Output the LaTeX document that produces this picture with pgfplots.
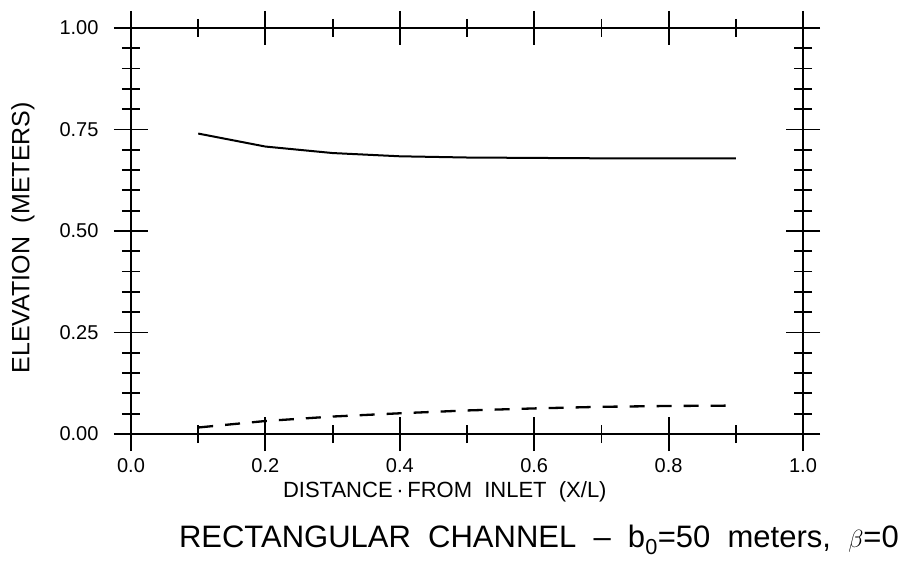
\documentclass[border=0pt]{standalone}
\usepackage{fontspec}
\setmainfont{Liberation Sans}
\usepackage{pgfplots}
\pgfplotsset{compat=1.18}

% water-surface and bed elevations along the channel
\pgfplotstableread{
x     y
0.1   0.740
0.2   0.708
0.3   0.692
0.4   0.684
0.5   0.681
0.6   0.680
0.7   0.679
0.8   0.679
0.9   0.679
}\surface
\pgfplotstableread{
x     y
0.1   0.016
0.2   0.032
0.3   0.043
0.4   0.051
0.5   0.058
0.6   0.063
0.7   0.067
0.8   0.069
0.9   0.070
}\bed

\begin{document}
\begin{tikzpicture}
\begin{axis}[
  scale only axis, width=672pt, height=406pt,
  xmin=0, xmax=1, ymin=0, ymax=1,
  xtick={0,0.2,0.4,0.6,0.8,1.0}, minor x tick num=1,
  ytick={0,0.25,0.5,0.75,1}, minor y tick num=4,
  tick align=center,
  major tick length=34pt, minor tick length=18pt,
  tick style={black, line width=1.8pt},
  axis line style={line width=1.8pt},
  /pgf/number format/assume math mode=true,
  tick label style={font=\fontsize{20}{22}\selectfont},
  xticklabel style={/pgf/number format/fixed, /pgf/number format/fixed zerofill,
    /pgf/number format/precision=1, yshift=-4pt},
  yticklabel style={/pgf/number format/fixed, /pgf/number format/fixed zerofill,
    /pgf/number format/precision=2, xshift=-12pt},
  xlabel={DISTANCE\,·\,FROM\ \ INLET\ \ (X/L)},
  xlabel style={font=\fontsize{22}{24}\selectfont, at={(axis description cs:0.467,0)},
    anchor=center, yshift=-58pt},
  ylabel={ELEVATION\ \ (METERS)},
  ylabel style={font=\fontsize{25}{27}\selectfont, at={(axis description cs:0,0.483)},
    anchor=center, yshift=108pt},
  title={RECTANGULAR\ \ CHANNEL\ \ --\ \ b\textsubscript{0}=50\ \ meters,\ \ $\beta$=0},
  title style={font=\fontsize{31}{33}\selectfont, at={(axis description cs:0.607,0)},
    anchor=center, yshift=-112pt},
  clip=false,
]
\addplot[black, line width=2pt] table[x=x, y=y] {\surface};
\addplot[black, line width=2.3pt, dash pattern=on 15pt off 12pt] table[x=x, y=y] {\bed};
\coordinate (SW) at (rel axis cs:0,0);
\end{axis}
\pgfresetboundingbox
\path[use as bounding box] (SW) ++(-131pt,-141pt) rectangle ++(913pt,575pt);
\end{tikzpicture}
\end{document}
